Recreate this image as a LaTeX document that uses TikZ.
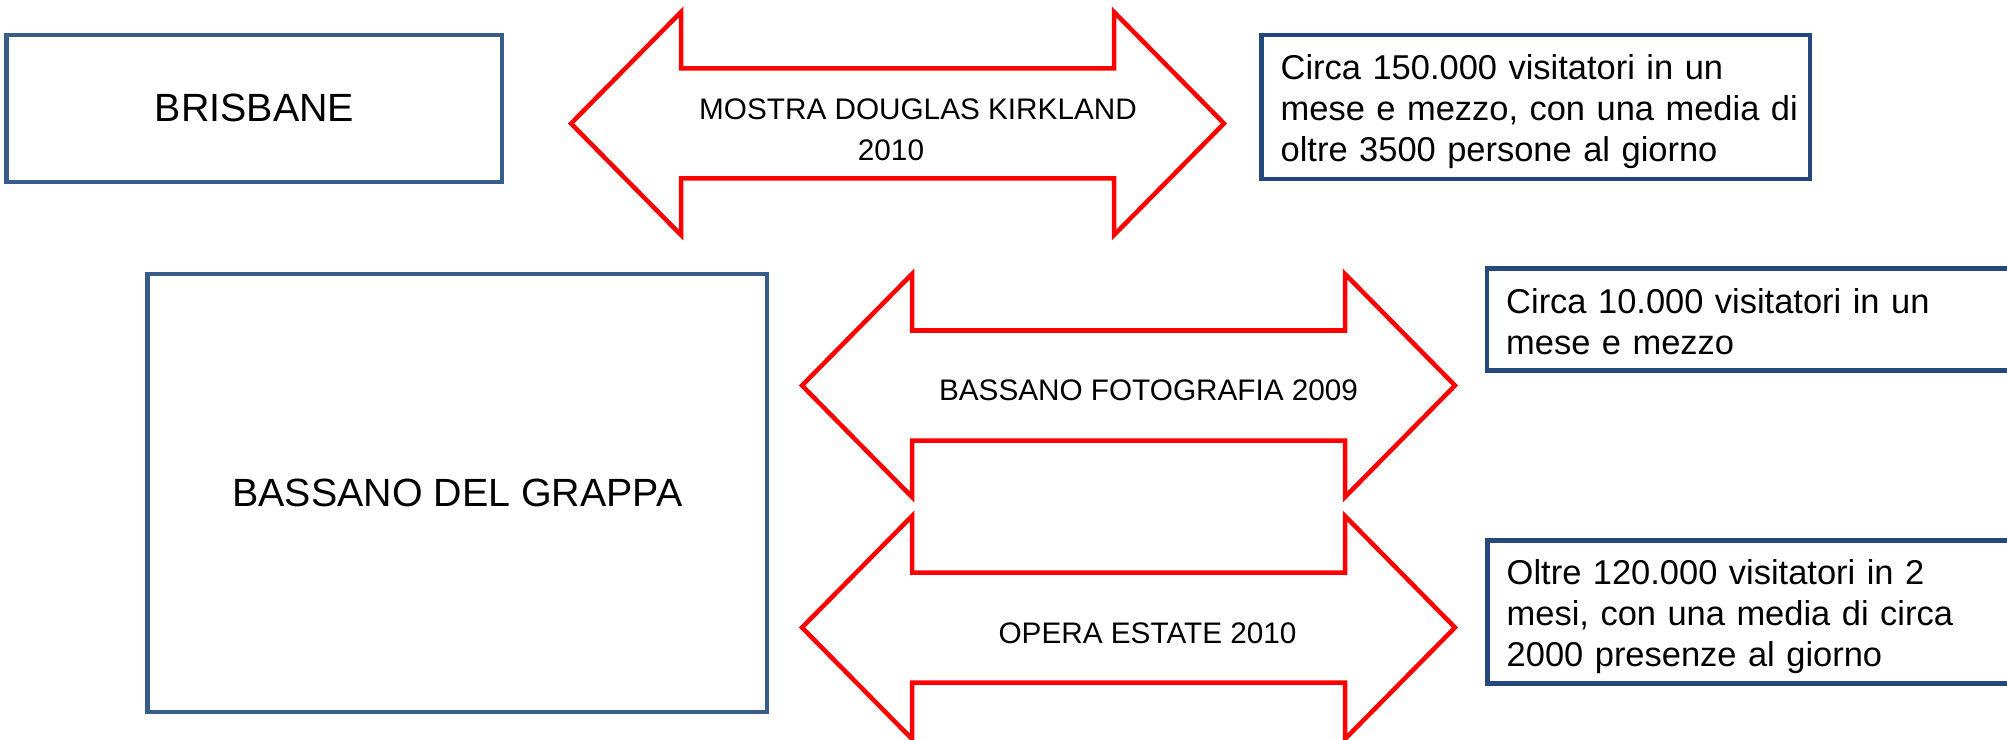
\documentclass[tikz,border=0pt]{standalone}
\usepackage{fontspec}
\setmainfont{Liberation Sans}
\usepackage{tikz}
\definecolor{cityblue}{RGB}{56,93,138}
\definecolor{noteblue}{RGB}{36,72,124}

\begin{document}
\begin{tikzpicture}[
    x=0.01cm, y=-0.01cm,
    city/.style={rectangle, draw=cityblue, line width=0.045cm, inner sep=0pt, outer sep=0pt, font=\fontsize{11.2pt}{13.4pt}\selectfont},
    notebox/.style={rectangle, draw=noteblue, line width=0.045cm, inner sep=0pt, outer sep=0pt},
    notetext/.style={anchor=base west, align=left, text width=5.2cm, inner sep=0pt, font=\fontsize{9.8pt}{11.58pt}\selectfont},
    eventline/.style={draw=red, line width=0.045cm, line join=miter},
    eventlabel/.style={inner sep=0pt, align=center, font=\fontsize{8.45pt}{11.86pt}\selectfont},
    twoway/.pic={
        \path[eventline] (-326.5,0) -- (-216.5,-111.5) -- (-216.5,-55) -- (216.5,-55)
            -- (216.5,-111.5) -- (326.5,0) -- (216.5,111.5) -- (216.5,55)
            -- (-216.5,55) -- (-216.5,111.5) -- cycle;
    }
]
    \useasboundingbox (0,0) rectangle (2007,740);

    % Cities
    \node[city, minimum width=4.953cm, minimum height=1.467cm] (brisbane) at (254.4,108.4) {BRISBANE};
    \node[city, minimum width=6.19cm, minimum height=4.377cm] (bassano) at (457.4,492.9) {BASSANO DEL GRAPPA};

    % Events
    \coordinate (kirkland) at (897.5,123.5);
    \coordinate (foto) at (1128.5,385.5);
    \coordinate (opera) at (1128.5,627.5);
    \foreach \ev in {kirkland, foto, opera}
        \pic at (\ev) {twoway};

    \node[eventlabel] (kirklandlabel) at ([shift={(20.5,6.3)}]kirkland) {MOSTRA DOUGLAS KIRKLAND\\2010\hspace*{0.54cm}};
    \node[eventlabel, anchor=base] (fotolabel) at ([shift={(20,14.5)}]foto) {BASSANO FOTOGRAFIA 2009};
    \node[eventlabel, anchor=base] (operalabel) at ([shift={(19,15.8)}]opera) {OPERA ESTATE 2010};

    % Visitors
    \node[notebox, minimum width=5.484cm, minimum height=1.442cm] (kirklandbox) at (1535.8,106.9) {};
    \node[notebox, minimum width=5.6cm, minimum height=1.018cm, anchor=west] (fotobox) at (1487,319.6) {};
    \node[notebox, minimum width=5.6cm, minimum height=1.428cm, anchor=west] (operabox) at (1487.5,611.9) {};

    \node[notetext] (kirklandnote) at ([shift={(18.5,45.2)}]kirklandbox.north west) {Circa 150.000 visitatori in un\\mese e mezzo, con una media di\\oltre 3500 persone al giorno};
    \node[notetext] (fotonote) at ([shift={(18.5,45.3)}]fotobox.north west) {Circa 10.000 visitatori in un\\mese e mezzo};
    \node[notetext] (operanote) at ([shift={(18.5,44.5)}]operabox.north west) {Oltre 120.000 visitatori in 2\\mesi, con una media di circa\\2000 presenze al giorno};
\end{tikzpicture}
\end{document}
